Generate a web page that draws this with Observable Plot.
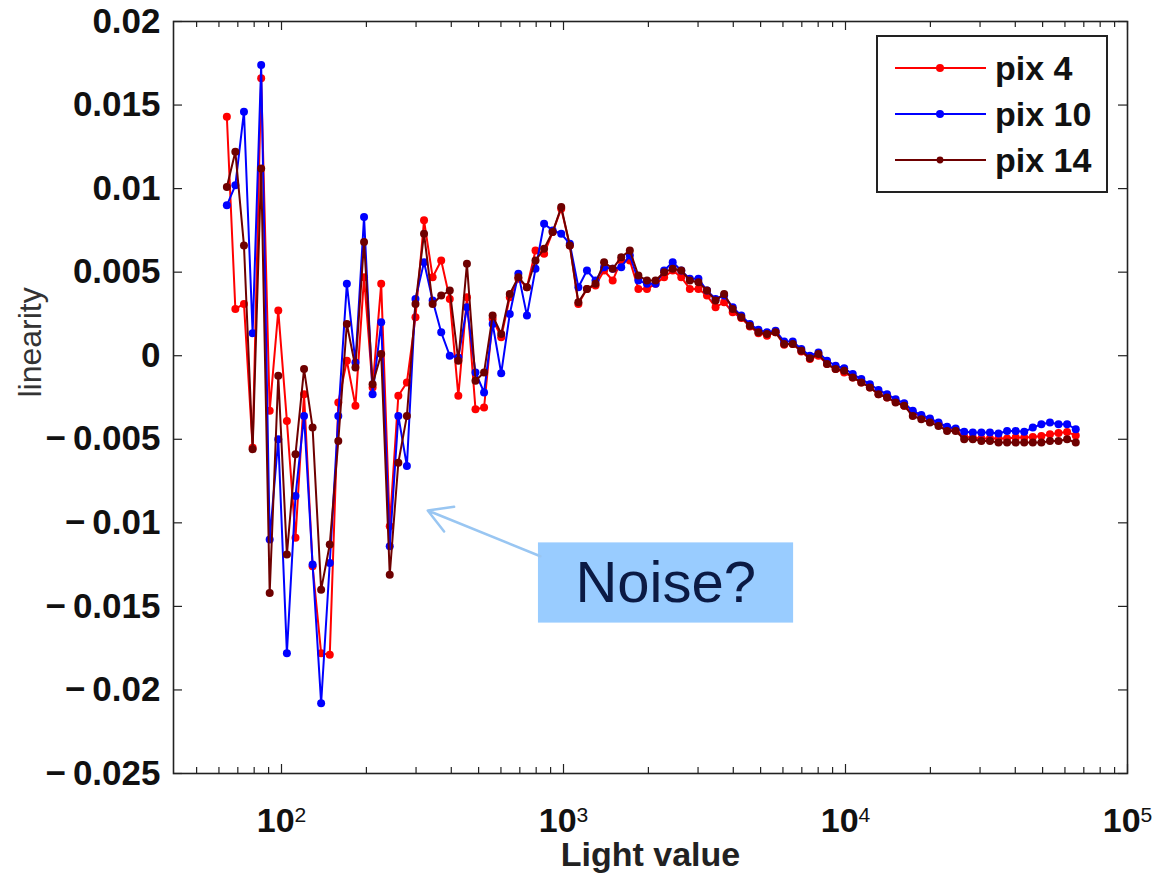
<!DOCTYPE html>
<html>
<head>
<meta charset="utf-8">
<script src="https://cdn.jsdelivr.net/npm/d3@7"></script>
<script src="https://cdn.jsdelivr.net/npm/@observablehq/plot@0.6"></script>
<style>
  body { margin: 0; background: #fff; }
  #wrap { position: relative; width: 1153px; height: 876px; font-family: "Liberation Sans", Arial, sans-serif; }
  #legend { position: absolute; left: 876px; top: 35px; width: 232px; height: 158px; border: 2px solid #222; background: #fff; box-sizing: border-box; }
  .item { position: absolute; left: 0; height: 40px; width: 228px; }
  .item svg { position: absolute; left: 15px; top: 0; }
  .item span { position: absolute; left: 117px; top: 0; line-height: 40px; font-size: 34px; font-weight: bold; color: #111; }
</style>
</head>
<body>
<div id="wrap"></div>
<script>
// Light values (x), 100 log-spaced points from 64 to 65536
const light = [64.0, 68.6, 73.6, 79.0, 84.7, 90.8, 97.4, 104.5, 112.1, 120.2,
  128.9, 138.2, 148.3, 159.0, 170.5, 182.9, 196.2, 210.4, 225.7, 242.0,
  259.6, 278.4, 298.6, 320.2, 343.5, 368.4, 395.1, 423.7, 454.5, 487.4,
  522.8, 560.7, 601.3, 644.9, 691.7, 741.9, 795.7, 853.4, 915.2, 981.6,
  1052.8, 1129.1, 1211.0, 1298.8, 1393.0, 1494.0, 1602.4, 1718.6, 1843.2, 1976.9,
  2120.3, 2274.0, 2438.9, 2615.8, 2805.5, 3008.9, 3227.1, 3461.2, 3712.2, 3981.4,
  4270.1, 4579.8, 4911.9, 5268.1, 5650.1, 6059.9, 6499.3, 6970.6, 7476.1, 8018.3,
  8599.8, 9223.4, 9892.3, 10609.7, 11379.1, 12204.3, 13089.3, 14038.5, 15056.6, 16148.5,
  17319.5, 18575.5, 19922.6, 21367.4, 22917.0, 24578.9, 26361.4, 28273.1, 30323.4, 32522.4,
  34881, 37410, 40123, 43032, 46153, 49500, 53090, 56940, 61069, 65536];

const pix4 = [0.0143, 0.0028, 0.0031, -0.0055, 0.0166, -0.0033, 0.0027, -0.0039, -0.0109, -0.0023,
  -0.0126, -0.0178, -0.0179, -0.0028, -0.0003, -0.0030, 0.0047, -0.0019, 0.0043, -0.0102,
  -0.0024, -0.0016, 0.0023, 0.0081, 0.0047, 0.0057, 0.0034, -0.0024, 0.0035, -0.0032,
  -0.0031, 0.0022, 0.0011, 0.0035, 0.0046, 0.0041, 0.0063, 0.0061, 0.0074, 0.0088,
  0.0066, 0.0031, 0.0040, 0.0042, 0.0051, 0.0045, 0.0057, 0.0057, 0.0040, 0.0040,
  0.0043, 0.0047, 0.0051, 0.0047, 0.0040, 0.0040, 0.0036, 0.0029, 0.0032, 0.0026,
  0.00225, 0.00175, 0.00135, 0.0012, 0.0014, 0.00065, 0.0007, 0.00025, -0.0002, 0.0000,
  -0.0005, -0.0008, -0.0010, -0.0013, -0.0016, -0.0019, -0.0023, -0.0025, -0.00275, -0.0030,
  -0.0034, -0.0036, -0.00385, -0.00405, -0.0043, -0.00445, -0.00485, -0.0049, -0.00495, -0.00495,
  -0.00495, -0.00495, -0.0049, -0.0049, -0.00487, -0.0048, -0.0047, -0.00463, -0.00457, -0.00477];

const pix10 = [0.0090, 0.0102, 0.0146, 0.00135, 0.0174, -0.0110, -0.0050, -0.0178, -0.0084, -0.0036,
  -0.0125, -0.0208, -0.0124, -0.0036, 0.0043, -0.0004, 0.0083, -0.0023, 0.0020, -0.0114,
  -0.0036, -0.0066, 0.0034, 0.0056, 0.0033, 0.0014, 0.0000, -0.0001, 0.0029, -0.0010,
  -0.0022, 0.0019, -0.00105, 0.0025, 0.0049, 0.0024, 0.0052, 0.0079, 0.0075, 0.0073,
  0.0067, 0.0041, 0.0051, 0.0045, 0.0053, 0.0052, 0.0053, 0.0060, 0.0045, 0.0043,
  0.0043, 0.0051, 0.0056, 0.0051, 0.0046, 0.0046, 0.0039, 0.0034, 0.0036, 0.0029,
  0.0024, 0.0019, 0.00155, 0.0014, 0.0015, 0.00085, 0.00085, 0.0004, 0.0000, 0.0002,
  -0.0003, -0.0006, -0.00075, -0.0011, -0.0014, -0.0017, -0.00205, -0.0023, -0.0026, -0.00285,
  -0.0033, -0.00355, -0.00375, -0.0040, -0.00425, -0.00435, -0.00455, -0.0046, -0.0046, -0.0046,
  -0.00465, -0.0045, -0.0045, -0.00455, -0.0043, -0.0041, -0.0040, -0.0041, -0.0041, -0.0044];

const pix14 = [0.0101, 0.0122, 0.0066, -0.0056, 0.0112, -0.0142, -0.0012, -0.0119, -0.0059, -0.0008,
  -0.0043, -0.0140, -0.0113, -0.0051, 0.0019, -0.0007, 0.0068, -0.0017, 0.0001, -0.0131,
  -0.0064, -0.0036, 0.0031, 0.0073, 0.0031, 0.0036, 0.0039, -0.0003, 0.0055, -0.0015,
  -0.0010, 0.0024, 0.0013, 0.0037, 0.0047, 0.0041, 0.0057, 0.0064, 0.0074, 0.0089,
  0.0066, 0.0032, 0.0040, 0.0043, 0.0056, 0.0052, 0.0059, 0.0063, 0.0048, 0.0045,
  0.0045, 0.0050, 0.0052, 0.0051, 0.0045, 0.0044, 0.0039, 0.0033, 0.0037, 0.0028,
  0.0023, 0.0018, 0.0014, 0.0013, 0.0014, 0.0007, 0.0007, 0.0003, -0.00015, 0.0001,
  -0.0005, -0.0008, -0.0009, -0.0013, -0.0016, -0.0019, -0.0023, -0.0025, -0.0028, -0.0030,
  -0.0036, -0.0038, -0.0040, -0.0042, -0.0045, -0.0045, -0.0050, -0.0050, -0.0051, -0.0051,
  -0.0052, -0.0052, -0.0052, -0.0052, -0.0052, -0.0052, -0.0051, -0.0051, -0.0050, -0.0052];

const seriesNames = ["pix 4", "pix 10", "pix 14"];
const seriesColors = ["#ff0000", "#0000ff", "#6e0000"];
const seriesValues = [pix4, pix10, pix14];

const xMajorTicks = [100, 1000, 10000, 100000];
const xMinorTicks = [50, 60, 70, 80, 90, 200, 300, 400, 500, 600, 700, 800, 900,
  2000, 3000, 4000, 5000, 6000, 7000, 8000, 9000, 20000, 30000, 40000, 50000, 60000, 70000, 80000, 90000];
const yTicks = [-0.025, -0.02, -0.015, -0.01, -0.005, 0, 0.005, 0.01, 0.015, 0.02];
const xDomain = [41.4, 100000];
const yDomain = [-0.025, 0.02];

// annotation
const noteBox = [{x1: 815, x2: 6546, y1: -0.0160, y2: -0.0112, tx: 2303, ty: -0.0136, label: "Noise?"}];
const noteArrow = [{x1: 828, y1: -0.0120, x2: 330, y2: -0.00926}];

const W = 1153, H = 876, mL = 173, mR = 26, mT = 21, mB = 103;
const pw = W - mL - mR, ph = H - mT - mB;

const fmtY = d => {
  if (Math.abs(d) < 1e-12) return "0";
  const s = String(+Math.abs(d).toFixed(3));
  return (d < 0 ? "\u2212\u2009" : "") + s;
};

const marks = [
  Plot.rect(noteBox, {x1: "x1", x2: "x2", y1: "y1", y2: "y2", fill: "#99ccff"}),
  Plot.text(noteBox, {x: "tx", y: "ty", text: "label", fontSize: 58, fill: "#0b1a44", fontFamily: "Liberation Sans, Arial, sans-serif"}),
  Plot.arrow(noteArrow, {x1: "x1", y1: "y1", x2: "x2", y2: "y2", stroke: "#99c6f2", strokeWidth: 2.5, headLength: 16})
];

seriesNames.forEach((name, k) => {
  const rows = light.map((x, i) => ({x, y: seriesValues[k][i], name}));
  marks.push(Plot.line(rows, {x: "x", y: "y", stroke: seriesColors[k], strokeWidth: 2}));
  marks.push(Plot.dot(rows, {x: "x", y: "y", fill: seriesColors[k], r: 4}));
});

const tickColor = "#222";
marks.push(
  Plot.tickX(xMajorTicks, {insetTop: ph - 9, stroke: tickColor, strokeWidth: 1.2}),
  Plot.tickX(xMajorTicks, {insetBottom: ph - 9, stroke: tickColor, strokeWidth: 1.2}),
  Plot.tickX(xMinorTicks, {insetTop: ph - 6, stroke: tickColor, strokeWidth: 1.2}),
  Plot.tickX(xMinorTicks, {insetBottom: ph - 6, stroke: tickColor, strokeWidth: 1.2}),
  Plot.tickY(yTicks, {insetRight: pw - 9, stroke: tickColor, strokeWidth: 1.2}),
  Plot.tickY(yTicks, {insetLeft: pw - 9, stroke: tickColor, strokeWidth: 1.2}),
  Plot.frame({stroke: tickColor, strokeWidth: 1.6}),
  Plot.axisX(xMajorTicks, {tickSize: 0, tickPadding: 34, fontSize: 34, fontWeight: "bold",
    tickFormat: d => String(Math.round(Math.log10(d))), label: null, fill: "#111"}),
  Plot.axisY(yTicks, {tickSize: 0, tickPadding: 13, fontSize: 35, fontWeight: "bold",
    tickFormat: fmtY, label: null, fill: "#111"}),
  Plot.text(["Light value"], {frameAnchor: "bottom", dy: 92, fontSize: 34, fontWeight: "bold", fill: "#222"}),
  Plot.text(["linearity"], {frameAnchor: "left", dx: -143, rotate: -90, fontSize: 32, fill: "#333"})
);

const chart = Plot.plot({
  width: W, height: H,
  marginLeft: mL, marginRight: mR, marginTop: mT, marginBottom: mB,
  style: {fontFamily: "Liberation Sans, Arial, sans-serif", background: "transparent", overflow: "visible"},
  x: {type: "log", domain: xDomain},
  y: {domain: yDomain},
  marks
});

// Turn exponent labels into 10 with superscript
chart.querySelectorAll('g[aria-label="x-axis tick label"] text').forEach(t => {
  const e = t.textContent;
  t.textContent = "";
  const ns = "http://www.w3.org/2000/svg";
  const a = document.createElementNS(ns, "tspan");
  a.textContent = "10";
  const b = document.createElementNS(ns, "tspan");
  b.textContent = e;
  b.setAttribute("dy", "-0.45em");
  b.setAttribute("font-size", "0.62em");
  b.setAttribute("font-weight", "normal");
  t.appendChild(a);
  t.appendChild(b);
});

const wrap = document.getElementById("wrap");
wrap.appendChild(chart);

// Legend
const legend = document.createElement("div");
legend.id = "legend";
const itemTops = [11, 57, 103];
seriesNames.forEach((name, k) => {
  const it = document.createElement("div");
  it.className = "item";
  it.style.top = itemTops[k] + "px";
  const r = k === 2 ? 3.4 : 4;
  it.innerHTML = `<svg width="95" height="40"><line x1="2" y1="20" x2="93" y2="20" stroke="${seriesColors[k]}" stroke-width="2"/><circle cx="47" cy="20" r="${r}" fill="${seriesColors[k]}"/></svg><span>${name}</span>`;
  legend.appendChild(it);
});
wrap.appendChild(legend);
</script>
</body>
</html>
